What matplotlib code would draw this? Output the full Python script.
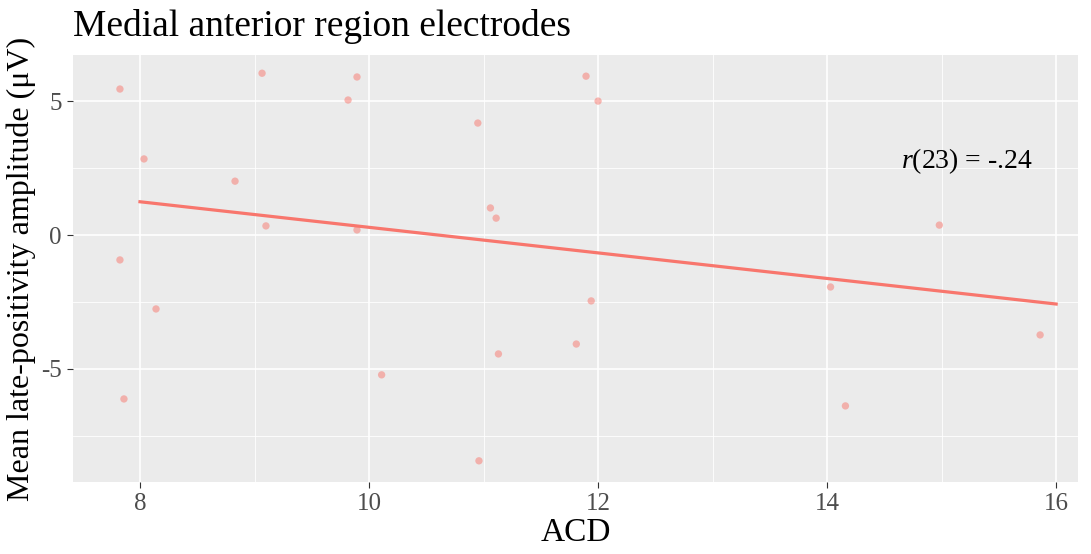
import numpy as np
import matplotlib
matplotlib.use("Agg")
import matplotlib.pyplot as plt
from matplotlib.ticker import MultipleLocator

plt.rcParams['font.family'] = ['Liberation Serif', 'DejaVu Serif']
plt.rcParams['mathtext.fontset'] = 'custom'
plt.rcParams['mathtext.rm'] = 'Liberation Serif'
plt.rcParams['mathtext.it'] = 'Liberation Serif:italic'
plt.rcParams['axes.unicode_minus'] = False

# data
acd = [7.825, 9.066, 9.895, 9.817, 11.895, 12.0, 10.95, 8.035, 8.83, 11.06,
       11.11, 9.10, 9.895, 14.98, 7.825, 8.14, 11.94, 14.03, 11.81, 11.13,
       10.11, 7.86, 14.16, 15.86, 10.96]
amplitude = [5.45, 6.04, 5.90, 5.04, 5.93, 5.0, 4.18, 2.84, 2.01, 1.01,
             0.63, 0.34, 0.19, 0.37, -0.93, -2.76, -2.46, -1.94, -4.07, -4.44,
             -5.22, -6.12, -6.38, -3.73, -8.43]
x_ticks = [8, 10, 12, 14, 16]
y_ticks = [-5, 0, 5]

col = '#F8766D'

fig = plt.figure(figsize=(10.91, 5.54), dpi=100)
ax = fig.add_axes([0.0669, 0.130, 0.9211, 0.7707])
ax.set_facecolor('#EBEBEB')
for s in ax.spines.values():
    s.set_visible(False)

ax.scatter(acd, amplitude, s=28, color=col, alpha=0.5, edgecolors='none', zorder=3)

slope, intercept = np.polyfit(acd, amplitude, 1)
xl = np.array([8, 16])
ax.plot(xl, intercept + slope * xl, color=col, lw=2.3, zorder=4)

ax.set_xlim(7.415, 16.19)
ax.set_ylim(-9.22, 6.72)
ax.set_xticks(x_ticks)
ax.set_yticks(y_ticks)
ax.xaxis.set_minor_locator(MultipleLocator(1))
ax.yaxis.set_minor_locator(MultipleLocator(2.5))
ax.grid(which='major', color='white', lw=1.2)
ax.grid(which='minor', color='white', lw=0.6)
ax.set_axisbelow(True)
ax.tick_params(which='major', length=4, color='#333333', labelsize=18, labelcolor='#4D4D4D', pad=4)
ax.tick_params(which='minor', length=0)

ax.set_xlabel('ACD', fontsize=24, labelpad=2)
ax.set_ylabel('Mean late-positivity amplitude (μV)', fontsize=23, labelpad=4)
ax.set_title('Medial anterior region electrodes', fontsize=27, loc='left', pad=14)

ax.text(15.22, 2.75, '$r$(23) = -.24', fontsize=20, ha='center', va='center')

fig.savefig('out.png', dpi=100)
